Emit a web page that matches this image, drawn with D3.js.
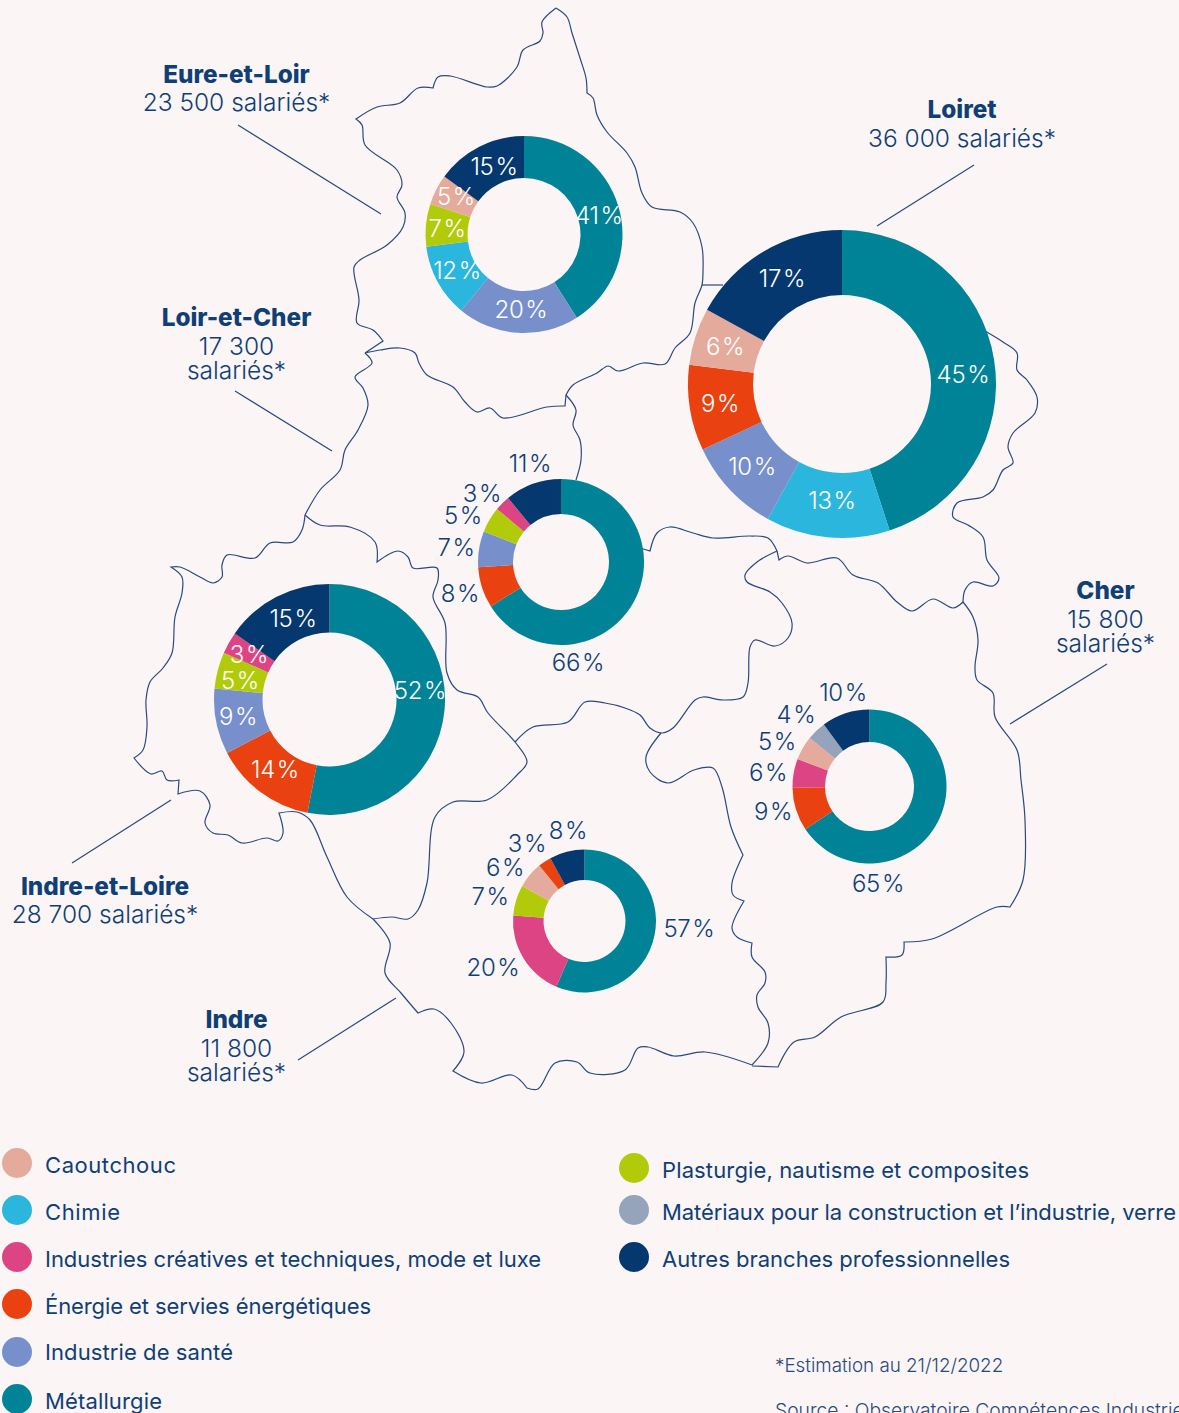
<!DOCTYPE html>
<html>
<head>
<meta charset="utf-8">
<script src="https://cdn.jsdelivr.net/npm/d3@7"></script>
<style>
  html, body { margin: 0; padding: 0; background: #fbf5f5; overflow: hidden; }
  svg { display: block; }
  text { font-family: Inter, "Noto Sans", sans-serif; }
</style>
</head>
<body>
<div id="chart"></div>
<script>
const fullwidth = 1179;
const fullheight = 1413;

const branches = ["Caoutchouc", "Chimie", "Industries créatives et techniques, mode et luxe", "Énergie et servies énergétiques", "Industrie de santé", "Métallurgie", "Plasturgie, nautisme et composites", "Matériaux pour la construction et l’industrie, verre", "Autres branches professionnelles"];
const branchColors = ["#e4ab9d", "#2bb6dd", "#dd4484", "#e94210", "#7790cb", "#008396", "#b1cb0b", "#95a3bb", "#05386f"];

// branch index + share, clockwise from the top of each ring
const eureBranches = [5, 4, 1, 6, 0, 8];
const eureValues = [41, 20, 12, 7, 5, 15];
const loiretBranches = [5, 1, 4, 3, 0, 8];
const loiretValues = [45, 13, 10, 9, 6, 17];
const loirCherBranches = [5, 3, 4, 6, 2, 8];
const loirCherValues = [66, 8, 7, 5, 3, 11];
const touraineBranches = [5, 3, 4, 6, 2, 8];
const touraineValues = [52, 14, 9, 5, 3, 15];
const cherBranches = [5, 3, 2, 0, 7, 8];
const cherValues = [65, 9, 6, 5, 4, 10];
const indreBranches = [5, 2, 6, 0, 3, 8];
const indreValues = [57, 20, 7, 6, 3, 8];

// map outlines
const borderEure = [[556,8],[567,17],[572,33],[580,58],[586,78],[587,93],[593,98],[597,115],[607,132],[627,153],[635,167],[642,193],[652,207],[680,212],[693,223],[702,247],[703,272],[702,285],[695,303],[690,333],[675,348],[665,364],[643,363],[618,371],[608,366],[597,373],[573,385],[566,395],[565,406],[547,407],[503,418],[490,408],[477,412],[465,402],[453,387],[427,375],[419,363],[415,353],[400,348],[380,350],[365,353],[383,341],[373,330],[357,323],[359,300],[354,267],[360,260],[387,245],[403,227],[405,213],[397,197],[402,185],[397,170],[365,145],[362,125],[356,119],[377,107],[400,103],[418,88],[433,88],[438,77],[450,76],[487,87],[497,86],[517,67],[523,50],[540,41],[543,33],[542,22],[556,8]];
const borderLoirWest = [[365,353],[372,363],[355,377],[363,388],[368,405],[358,430],[345,450],[340,470],[320,490],[305,515]];
const borderTouraine = [[305,515],[302,530],[293,542],[270,543],[255,558],[227,555],[222,565],[222,577],[213,583],[200,577],[180,567],[171,567],[182,577],[182,593],[175,617],[172,653],[163,668],[150,682],[146,700],[147,727],[143,750],[134,758],[151,774],[162,771],[167,780],[179,780],[178,794],[200,791],[210,805],[205,823],[213,833],[228,835],[242,843],[267,838],[278,841],[283,833],[279,813],[297,812],[310,820],[327,857],[347,897],[373,919]];
const borderIndreSouth = [[373,919],[390,943],[385,973],[401,993],[418,1013],[434,1009],[451,1023],[464,1052],[453,1071],[481,1083],[512,1075],[527,1088],[538,1089],[555,1063],[577,1062],[590,1073],[625,1070],[638,1048],[648,1047],[674,1056],[705,1052],[752,1065]];
const borderCherEast = [[752,1066],[778,1067],[794,1042],[815,1037],[841,1017],[883,1002],[886,983],[886,957],[902,955],[904,942],[932,939],[997,907],[1010,907],[1023,880],[1025,820],[1021,780],[1017,750],[995,717],[993,693],[977,680],[975,667],[978,640],[973,617],[963,602]];
const borderLoiretEast = [[963,602],[965,590],[973,582],[993,586],[999,578],[987,560],[983,537],[968,525],[953,517],[957,503],[983,497],[993,490],[1003,470],[1013,463],[1008,447],[1013,433],[1035,413],[1037,397],[1027,380],[1017,370],[1017,353],[1003,342],[985,331]];
const borderLoiretNorth = [[702,285],[723,285]];
const borderLoiretSouth = [[963,602],[953,608],[933,599],[912,611],[897,602],[878,583],[853,575],[837,558],[807,563],[788,556],[779,560],[777,551]];
const borderLoirNorth = [[777,551],[768,538],[750,536],[713,538],[693,533],[670,527],[657,533],[650,551],[640,548]];
const borderLoirLoiret = [[566,395],[576,410],[573,425],[580,440],[581,460],[576,480]];
const borderLoirSouthWest = [[305,515],[320,525],[350,527],[375,542],[377,562],[398,551],[408,557],[413,568],[437,568],[438,580],[433,597],[445,623],[447,673],[457,690],[478,697],[488,713],[515,742],[527,762],[517,775],[487,800],[453,802],[435,817],[427,883],[418,910],[408,919],[392,917],[373,919]];
const borderLoirSouth = [[515,742],[533,727],[568,722],[585,702],[605,703],[625,708],[640,715],[650,728],[662,733],[673,728],[695,700],[703,697],[723,700],[743,697],[748,683],[750,647],[755,640],[775,646],[788,638],[792,623],[782,603],[770,592],[747,582],[745,575],[757,562],[777,551]];
const borderCherWest = [[661,733],[646,757],[650,772],[668,783],[694,770],[713,768],[722,787],[731,827],[743,855],[732,883],[733,895],[744,901],[732,928],[737,937],[752,943],[752,957],[765,972],[765,983],[757,995],[758,1007],[768,1023],[768,1043],[752,1065]];
const borders = [borderEure, borderLoirWest, borderTouraine, borderIndreSouth, borderCherEast, borderLoiretEast, borderLoiretNorth, borderLoiretSouth, borderLoirNorth, borderLoirLoiret, borderLoirSouthWest, borderLoirSouth, borderCherWest];

// points where the outline turns sharply, doubled so the curve keeps a corner
const sharpCorners = ["365,353", "356,119", "433,88", "383,341", "587,93", "566,395", "565,406", "171,567", "134,758", "179,780", "178,794", "279,813", "453,1071", "418,1013", "778,1067", "1010,907", "886,957", "904,942", "743,855", "744,901", "752,943", "377,562", "779,560", "650,551", "963,602", "527,1088"];
const withCorners = pts => pts.flatMap(p => sharpCorners.includes(p.join(",")) ? [p, p] : [p]);

const rings = [
  { branches: eureBranches, values: eureValues, cx: 524, cy: 234.5, outer: 98.5, inner: 56.5, color: "#fff",
    labels: [[599,224],[521,318],[457,279],[447,237],[456,205],[494,175]] },
  { branches: loiretBranches, values: loiretValues, cx: 842, cy: 384, outer: 154, inner: 89, color: "#fff",
    labels: [[963,383],[832,509],[752,475],[720,412],[725,355],[782,287]] },
  { branches: loirCherBranches, values: loirCherValues, cx: 561, cy: 562, outer: 83, inner: 48, color: "#0f3f75",
    labels: [[578,671],[460,602],[456,556],[463,524],[482,502],[530,472]] },
  { branches: touraineBranches, values: touraineValues, cx: 329.5, cy: 699.5, outer: 115.5, inner: 67, color: "#fff",
    labels: [[420,699],[275,778],[238,725],[240,689],[249,663],[293,627]] },
  { branches: cherBranches, values: cherValues, cx: 869.5, cy: 786.5, outer: 77, inner: 44.5, color: "#0f3f75",
    labels: [[878,892],[773,820],[768,781],[777,750],[796,723],[843,701]] },
  { branches: indreBranches, values: indreValues, cx: 584.5, cy: 921, outer: 71.5, inner: 41, color: "#0f3f75",
    labels: [[689,937],[493,976],[490,905],[505,876],[527,852],[568,839]] }
];

const departments = [
  { lines: ["Eure-et-Loir", "23 500 salariés*"], x: 236.5, ys: [83, 111], leader: [[238,125],[381,214]] },
  { lines: ["Loiret", "36 000 salariés*"], x: 962, ys: [118, 147], leader: [[974,165],[877,226]] },
  { lines: ["Loir-et-Cher", "17 300", "salariés*"], x: 236.5, ys: [326, 355, 379], leader: [[235,391],[332,451]] },
  { lines: ["Cher", "15 800", "salariés*"], x: 1105.5, ys: [599, 628, 652], leader: [[1107,664],[1010,724]] },
  { lines: ["Indre-et-Loire", "28 700 salariés*"], x: 105, ys: [895, 923], leader: [[171,800],[72,863]] },
  { lines: ["Indre", "11 800", "salariés*"], x: 236.5, ys: [1028, 1057, 1081], leader: [[396,998],[298,1060]] }
];

// circle x, circle y, text baseline, text width
const legendSpots = [[17,1163,1173,131],[17,1210,1220,75],[17,1257,1267,496],[17,1304,1314,326],[17,1352,1360,188],[17,1399,1409,117],[634,1168,1178,367],[634,1210,1220,514],[634,1257,1267,348]];

const textColor = "#0f3f75";
const lineColor = "#2a4a7c";

const svg = d3.select("#chart").append("svg")
  .attr("width", fullwidth)
  .attr("height", fullheight);

svg.append("rect").attr("width", fullwidth).attr("height", fullheight).attr("fill", "#fbf5f5");

// Draw map
const line = d3.line().curve(d3.curveCatmullRom.alpha(0.5));
svg.append("g").selectAll("path")
  .data(borders)
  .enter().append("path")
  .attr("d", d => line(withCorners(d)))
  .attr("fill", "none")
  .attr("stroke", lineColor)
  .attr("stroke-width", 1.2);

// Leader lines
svg.append("g").selectAll("path")
  .data(departments)
  .enter().append("path")
  .attr("d", d => d3.line()(d.leader))
  .attr("stroke", lineColor)
  .attr("stroke-width", 1.2);

// Department labels
departments.forEach(dep => {
  dep.lines.forEach((txt, i) => {
    svg.append("text")
      .attr("x", dep.x)
      .attr("y", dep.ys[i])
      .attr("text-anchor", "middle")
      .attr("font-size", i === 0 ? 24.3 : 24.5)
      .attr("font-weight", i === 0 ? 800 : 300)
      .attr("fill", textColor)
      .text(txt);
  });
});

// Rings
const pie = d3.pie().sort(null);
rings.forEach(ring => {
  const arc = d3.arc().innerRadius(ring.inner).outerRadius(ring.outer);
  svg.append("g")
    .attr("transform", `translate(${ring.cx},${ring.cy})`)
    .selectAll("path")
    .data(pie(ring.values))
    .enter().append("path")
    .attr("d", arc)
    .attr("fill", (d, i) => branchColors[ring.branches[i]]);

  svg.append("g").selectAll("text")
    .data(ring.values)
    .enter().append("text")
    .attr("x", (d, i) => ring.labels[i][0])
    .attr("y", (d, i) => ring.labels[i][1])
    .attr("text-anchor", "middle")
    .attr("font-size", 24)
    .attr("font-weight", 300)
    .attr("letter-spacing", -0.3)
    .attr("fill", ring.color)
    .text(d => d + "\u200a%");
});

// Legend
const legend = svg.append("g");
legend.selectAll("circle")
  .data(branches)
  .enter().append("circle")
  .attr("cx", (d, i) => legendSpots[i][0])
  .attr("cy", (d, i) => legendSpots[i][1])
  .attr("r", 15)
  .attr("fill", (d, i) => branchColors[i]);
legend.selectAll("text")
  .data(branches)
  .enter().append("text")
  .attr("x", (d, i) => legendSpots[i][0] + 28)
  .attr("y", (d, i) => legendSpots[i][2])
  .attr("font-size", 22)
  .attr("textLength", (d, i) => legendSpots[i][3])
  .attr("fill", textColor)
  .text(d => d);

// Footnotes
svg.append("text").attr("x", 775).attr("y", 1372).attr("font-size", 18.8).attr("font-weight", 300).attr("fill", "#2a4a7c").text("*Estimation au 21/12/2022");
svg.append("text").attr("x", 775).attr("y", 1417).attr("font-size", 19.3).attr("font-weight", 300).attr("fill", "#2a4a7c").text("Source : Observatoire Compétences Industries");
</script>
</body>
</html>
